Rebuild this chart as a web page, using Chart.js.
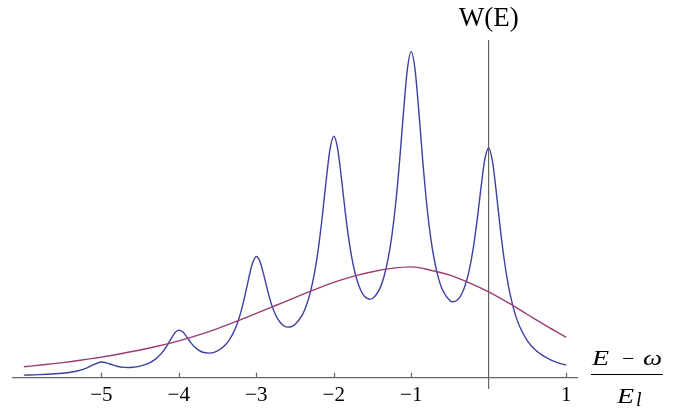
<!DOCTYPE html>
<html>
<head>
<meta charset="utf-8">
<script src="https://cdn.jsdelivr.net/npm/chart.js@4.4.1/dist/chart.umd.min.js"></script>
<style>
  body { margin: 0; background: #fff; }
  #wrap { width: 690px; height: 416px; }
</style>
</head>
<body>
<div id="wrap"><canvas id="myChart" width="690" height="416"></canvas></div>
<script>
// data: x = (E - w)/E_l
const peakX = [-6, -5.8, -5.6, -5.5, -5.4, -5.3, -5.2, -5.1, -5, -4.9, -4.8, -4.7, -4.65, -4.6, -4.5, -4.4, -4.3, -4.2, -4.15, -4.1, -4.05,
  -4, -3.95, -3.9, -3.85, -3.8, -3.7, -3.6, -3.5, -3.4, -3.35, -3.3, -3.25, -3.2, -3.15, -3.1, -3.05,
  -3, -2.95, -2.9, -2.85, -2.8, -2.75, -2.7, -2.65, -2.6, -2.55, -2.5, -2.4, -2.35, -2.3, -2.25, -2.2, -2.15, -2.1, -2.05,
  -2, -1.95, -1.9, -1.85, -1.8, -1.75, -1.7, -1.65, -1.6, -1.54, -1.5, -1.4, -1.35, -1.3, -1.25, -1.2, -1.15, -1.1, -1.05,
  -1, -0.95, -0.9, -0.85, -0.8, -0.75, -0.7, -0.65, -0.6, -0.5, -0.47, -0.4, -0.35, -0.3, -0.25, -0.2, -0.15, -0.1, -0.05,
  0, 0.05, 0.1, 0.15, 0.2, 0.25, 0.3, 0.35, 0.4, 0.5, 0.6, 0.7, 0.8, 0.9, 1];
const peakY = [0.026, 0.031, 0.039, 0.045, 0.054, 0.069, 0.093, 0.130, 0.157, 0.140, 0.115, 0.103, 0.102, 0.104, 0.116, 0.141, 0.186, 0.266, 0.324, 0.389, 0.449,
  0.476, 0.459, 0.411, 0.356, 0.310, 0.257, 0.246, 0.269, 0.328, 0.376, 0.443, 0.533, 0.653, 0.808, 0.984, 1.141,
  1.212, 1.158, 1.018, 0.861, 0.726, 0.627, 0.562, 0.522, 0.506, 0.509, 0.531, 0.636, 0.729, 0.861, 1.040, 1.284, 1.597, 1.957, 2.276,
  2.415, 2.293, 1.991, 1.649, 1.355, 1.132, 0.977, 0.872, 0.812, 0.785, 0.792, 0.901, 1.015, 1.184, 1.419, 1.744, 2.166, 2.651, 3.081,
  3.261, 3.079, 2.648, 2.160, 1.737, 1.409, 1.172, 1.001, 0.884, 0.769, 0.759, 0.780, 0.835, 0.932, 1.079, 1.290, 1.570, 1.895, 2.183,
  2.297, 2.158, 1.844, 1.491, 1.182, 0.938, 0.755, 0.616, 0.512, 0.369, 0.280, 0.221, 0.179, 0.149, 0.126];

const bandX = [-6, -5.75, -5.5, -5.25, -5, -4.75, -4.5, -4.25, -4, -3.75, -3.5, -3.25, -3, -2.75, -2.5,
  -2.25, -2, -1.75, -1.5, -1.25, -1, -0.75, -0.5, -0.25, 0, 0.25, 0.5, 0.75, 1];
const bandY = [0.110, 0.129, 0.151, 0.177, 0.206, 0.240, 0.277, 0.320, 0.368, 0.425, 0.491, 0.565, 0.643, 0.722, 0.801,
  0.880, 0.953, 1.013, 1.060, 1.093, 1.108, 1.075, 1.025, 0.948, 0.858, 0.750, 0.632, 0.515, 0.404];

const tickVals = [-5, -4, -3, -2, -1, 1];
const tickLabels = ['−5', '−4', '−3', '−2', '−1', '1'];

const AXIS = '#666';
const SERIF = '"Liberation Serif", "Times New Roman", serif';

const toPts = (xs, ys) => xs.map((x, i) => ({ x: x, y: ys[i] }));

// text stretched sideways a bit, like the wide italic letters of the original
function wideText(ctx, str, x, y, font, sx) {
  ctx.save();
  ctx.translate(x, y);
  ctx.scale(sx, 1);
  ctx.font = font;
  ctx.fillText(str, 0, 0);
  ctx.restore();
}

// tick marks pointing up, W(E) over the vertical axis, fraction at the right
const extras = {
  id: 'extras',
  afterDraw(chart) {
    const { ctx, scales: { x, y } } = chart;
    const y0 = y.getPixelForValue(0);
    ctx.save();
    ctx.strokeStyle = AXIS;
    ctx.lineWidth = 1.2;
    tickVals.forEach(v => {
      const px = Math.round(x.getPixelForValue(v)) + 0.5;
      ctx.beginPath();
      ctx.moveTo(px, y0);
      ctx.lineTo(px, y0 - 5);
      ctx.stroke();
    });

    ctx.fillStyle = '#000';
    ctx.textBaseline = 'alphabetic';
    ctx.textAlign = 'center';
    ctx.font = '27px ' + SERIF;
    ctx.fillText('W(E)', x.getPixelForValue(0), 26);

    // (E - w) / E_l
    ctx.textAlign = 'left';
    const it = 'italic 20px ' + SERIF;
    wideText(ctx, 'E', 592, 365, it, 1.4);
    wideText(ctx, 'ω', 643, 365, it, 1.35);
    wideText(ctx, '−', 622, 365, '20px ' + SERIF, 1.1);
    wideText(ctx, 'E', 617, 403, it, 1.4);
    wideText(ctx, 'l', 636, 406, it, 1);

    ctx.strokeStyle = '#000';
    ctx.lineWidth = 1;
    ctx.beginPath();
    ctx.moveTo(591, 374.5);
    ctx.lineTo(663, 374.5);
    ctx.stroke();
    ctx.restore();
  }
};

const config = {
  type: 'line',
  data: {
    datasets: [
      {
        label: 'band',
        data: toPts(bandX, bandY),
        borderColor: '#9b3d72',
        borderWidth: 1.4,
        pointRadius: 0,
        cubicInterpolationMode: 'monotone',
        fill: false,
        order: 0
      },
      {
        label: 'W(E)',
        data: toPts(peakX, peakY),
        borderColor: '#3f3fa0',
        borderWidth: 1.4,
        pointRadius: 0,
        cubicInterpolationMode: 'monotone',
        fill: false,
        order: 1
      }
    ]
  },
  options: {
    responsive: false,
    animation: false,
    devicePixelRatio: 1,
    layout: { padding: { left: 13, top: 41, right: 113, bottom: 28 } },
    plugins: { legend: { display: false }, tooltip: { enabled: false } },
    scales: {
      x: {
        type: 'linear',
        min: -6.14,
        max: 1.14,
        position: { y: 0 },
        afterBuildTicks: s => { s.ticks = tickVals.map(v => ({ value: v })); },
        grid: { display: false, drawTicks: false },
        border: { display: true, color: AXIS, width: 1.2 },
        ticks: {
          autoSkip: false,
          maxRotation: 0,
          padding: 7,
          color: '#000',
          font: { family: SERIF, size: 21, lineHeight: 1 },
          callback: v => tickLabels[tickVals.indexOf(v)]
        }
      },
      y: {
        type: 'linear',
        min: -0.103,
        max: 3.367,
        position: { x: 0 },
        grid: { display: false, drawTicks: false },
        border: { display: true, color: AXIS, width: 1.2 },
        ticks: { display: false }
      }
    }
  },
  plugins: [extras]
};

const ctx = document.getElementById('myChart');
const myChart = new Chart(ctx, config);
</script>
</body>
</html>
